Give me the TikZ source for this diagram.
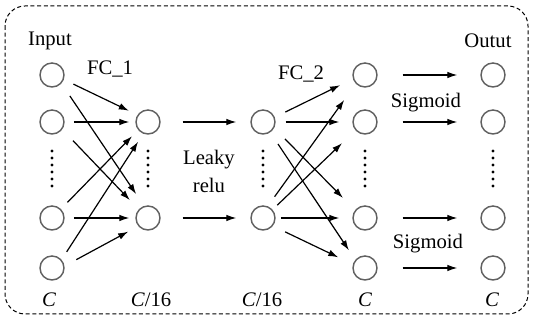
\documentclass[tikz,border=0pt]{standalone}
\usepackage{fontspec}
\setmainfont{Liberation Serif}
\usetikzlibrary{arrows.meta,calc}
\begin{document}
\begin{tikzpicture}[x=0.75pt,y=-0.75pt,
  neuron/.style={circle,draw=black!62,line width=1.1pt,minimum size=18pt,inner sep=0pt},
  arr/.style={-{Latex[length=7.5pt,width=5pt]},line width=0.9pt},
  lbl/.style={anchor=base,inner sep=0pt,font=\fontsize{15.5}{21}\selectfont},
  frame/.style={dash pattern=on 3pt off 2pt,line width=0.75pt,rounded corners=15pt}
  ]
\useasboundingbox (0,0) rectangle (533,320);
\draw[frame] (5,6) rectangle (528,314);

% neurons
\node[neuron] (i1) at (52,75) {};
\node[neuron] (i2) at (52,122) {};
\node[neuron] (i3) at (52,218) {};
\node[neuron] (i4) at (52,268) {};
\node[neuron] (c1) at (148,122) {};
\node[neuron] (c2) at (148,218) {};
\node[neuron] (d1) at (263,122) {};
\node[neuron] (d2) at (263,218) {};
\node[neuron] (o1) at (365,75) {};
\node[neuron] (o2) at (365,122) {};
\node[neuron] (o3) at (365,218) {};
\node[neuron] (o4) at (365,268) {};
\node[neuron] (p1) at (493,75) {};
\node[neuron] (p2) at (493,122) {};
\node[neuron] (p3) at (493,218) {};
\node[neuron] (p4) at (493,268) {};

% vertical dots
\foreach \x in {52,148,263,365,493}
  \foreach \k in {0,...,5}
    \fill (\x,151+7*\k) circle (1.25pt);

% FC_1
\draw[arr,shorten <=7.9pt,shorten >=7.2pt] (i1.-21) -- (c1.146);
\draw[arr,shorten <=11.2pt,shorten >=10.7pt] (i1.-42) -- (c2.108);
\draw[arr,shorten <=6.8pt,shorten >=4.5pt] (i2) -- (c1);
\draw[arr,shorten <=11.6pt,shorten >=9.6pt] (i2.-36) -- (c2.137);
\draw[arr,shorten <=6.9pt,shorten >=6.5pt] (i3.45) -- (c1.-141);
\draw[arr,shorten <=6.8pt,shorten >=4.5pt] (i3) -- (c2);
\draw[arr,shorten <=7pt,shorten >=7.1pt] (i4.41) -- (c1.-112);
\draw[arr,shorten <=10pt,shorten >=8.6pt] (i4.9) -- (c2.-140);

% leaky relu
\draw[arr,shorten <=16.5pt,shorten >=10.5pt] (c1) -- (d1);
\draw[arr,shorten <=16.5pt,shorten >=10.5pt] (c2) -- (d2);

% FC_2
\draw[arr,shorten <=8.8pt,shorten >=10.7pt] (d1.22) -- (o1.-162);
\draw[arr,shorten <=7.5pt,shorten >=9.75pt] (d1) -- (o2);
\draw[arr,shorten <=11.5pt,shorten >=12.9pt] (d1.-28) -- (o3.142);
\draw[arr,shorten <=10.4pt,shorten >=8.6pt] (d1.-55) -- (o4.140);
\draw[arr,shorten <=8.8pt,shorten >=14.9pt] (d2.68) -- (o1.-136);
\draw[arr,shorten <=4.8pt,shorten >=13.9pt] (d2.41) -- (o2.-139);
\draw[arr,shorten <=3.8pt,shorten >=9.75pt] (d2) -- (o3);
\draw[arr,shorten <=10.2pt,shorten >=12.1pt] (d2.-39) -- (o4.163);

% sigmoid
\draw[arr,shorten <=18.75pt,shorten >=17.25pt] (o1) -- (p1);
\draw[arr,shorten <=18.75pt,shorten >=17.25pt] (o2) -- (p2);
\draw[arr,shorten <=18.75pt,shorten >=17.25pt] (o3) -- (p3);
\draw[arr,shorten <=18.75pt,shorten >=17.25pt] (o4) -- (p4);

% labels
\node[lbl] (tin) at (50,46) {Input};
\node[lbl] (tfc1) at (110,75) {FC\_1};
\node[lbl] (tfc2) at (301,80) {FC\_2};
\node[lbl] (tout) at (488,48) {Outut};
\node[lbl] (ts1) at (426,108) {Sigmoid};
\node[lbl] (ts2) at (428,249) {Sigmoid};
\node[lbl,align=center,anchor=center] (tlr) at (209,171) {Leaky\\relu};
\node[lbl] (b1) at (49,307) {\textit{C}};
\node[lbl] (b2) at (151,307) {\textit{C}/16};
\node[lbl] (b3) at (262,307) {\textit{C}/16};
\node[lbl] (b4) at (365,307) {\textit{C}};
\node[lbl] (b5) at (492,307) {\textit{C}};
\end{tikzpicture}
\end{document}
